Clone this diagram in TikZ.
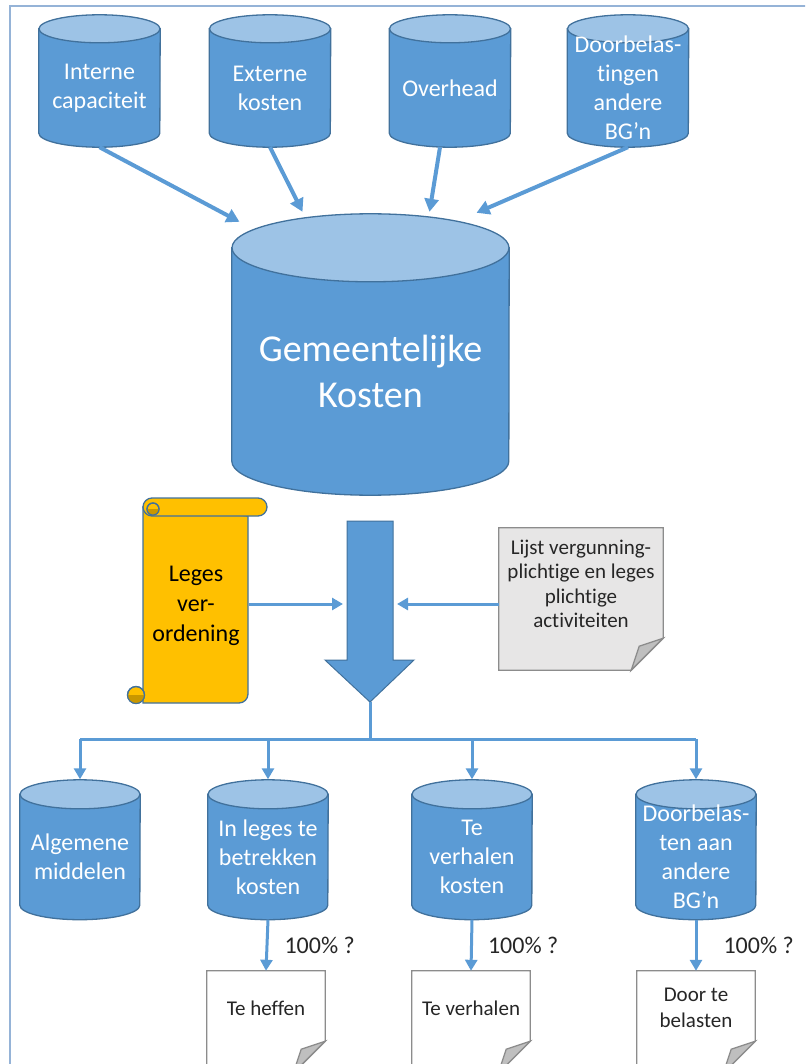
\documentclass[tikz,border=0pt]{standalone}
\usepackage{fontspec}
\setmainfont[Ligatures=NoCommon]{Carlito}
\usetikzlibrary{arrows.meta,calc,positioning,backgrounds}

\definecolor{vatblauw}{HTML}{5B9BD5}
\definecolor{vatlicht}{HTML}{9DC3E6}
\definecolor{vatrand}{HTML}{41719C}
\definecolor{lijnblauw}{HTML}{5B9BD5}
\definecolor{kader}{HTML}{95B3D7}
\definecolor{geel}{HTML}{FFC000}
\definecolor{donkergeel}{HTML}{C99700}
\definecolor{blad}{HTML}{E7E6E6}
\definecolor{bladrand}{HTML}{8C8C8C}
\definecolor{vouwgrijs}{HTML}{BFBFBF}
\definecolor{inkt}{HTML}{262626}

\def\vouw{32}

% cylinder round the body node: top ellipse on its north side
\newcommand\tekenvat[3]{%
  \begin{pgfonlayer}{background}
  \draw[vatlijn,fill=vatblauw] (#1.north west) -- ($(#1.south west)+(0,-#3)$)
     arc[start angle=180,end angle=360,x radius=#2pt,y radius=#3pt]
     -- (#1.north east) -- cycle;
  \draw[vatlijn,fill=vatlicht] (#1.north) ellipse[x radius=#2pt,y radius=#3pt];
  \end{pgfonlayer}
}

% document with folded corner round a text node
\newcommand\vouwblad[3]{%
  \begin{pgfonlayer}{background}
  \draw[bladlijn,fill=#3] (#1.north west) -- (#1.north east)
     -- ($(#1.south east)+(0,#2-\vouw)$) -- ($(#1.south east)+(-\vouw,#2)$)
     -- ($(#1.south west)+(0,#2)$) -- cycle;
  \draw[bladlijn,fill=vouwgrijs] ($(#1.south east)+(-\vouw,#2)$)
     .. controls ($(#1.south east)+(-0.85*\vouw,#2-0.45*\vouw)$) .. ($(#1.south east)+(-0.75*\vouw,#2-0.75*\vouw)$)
     -- ($(#1.south east)+(0,#2-\vouw)$) -- cycle;
  \end{pgfonlayer}
}

\begin{document}
\begin{tikzpicture}[x=1pt,y=-1pt,
    vat/.style={rectangle,text=white,align=center,inner sep=0pt,
        minimum width=121pt,minimum height=118pt,font=\fontsize{24}{29}\selectfont},
    grootvat/.style={vat,minimum width=277pt,minimum height=247pt,
        font=\fontsize{38}{46}\selectfont},
    laagvat/.style={vat,minimum width=120pt,minimum height=125pt},
    vatlijn/.style={draw=vatrand,line width=1.3pt},
    stroom/.style={draw=lijnblauw,line width=4pt,-{Triangle[length=13pt,width=14pt]}},
    stroomdun/.style={draw=lijnblauw,line width=3pt},
    punt/.style={-{Triangle[length=11pt,width=12pt]}},
    pijlvorm/.style={fill=vatblauw,draw=vatrand,line width=1pt},
    bladlijn/.style={draw=bladrand,line width=1.3pt},
    bladtekst/.style={text=inkt,align=center,inner sep=0pt},
    rol/.style={fill=geel,draw=vatrand,line width=1.3pt},
    krul/.style={fill=donkergeel},
    procent/.style={text=inkt,font=\fontsize{24}{29}\selectfont,inner sep=0pt},
    kaderlijn/.style={draw=kader,line width=1.5pt},
]
\useasboundingbox (0,0) rectangle (805,1064);
\clip (0,0) rectangle (805,1064);

\draw[kaderlijn] (10,1070) |- (810,6);

%% Sources
\node[vat] (intcap) at (99.5,88) {Interne\\capaciteit};
\node[vat] (extkost) at (270,88) {Externe\\kosten};
\node[vat] (overhead) at (450,88) {Overhead};
\node[vat] (doorbel) at (628,88) {Doorbelas-\\tingen\\andere\\BG’n};
\foreach \n in {intcap,extkost,overhead,doorbel} {\tekenvat{\n}{60.5}{14}}

\node[grootvat] (gemkost) at (370.5,371.5) {Gemeentelijke\\Kosten};
\tekenvat{gemkost}{138.5}{34}

{[shorten <=4pt]
    \draw[stroom] (intcap.south) -- ($(gemkost.north)+(-131,-26)$);
    \draw[stroom] (extkost.south) -- ($(gemkost.north)+(-68,-36)$);
    \draw[stroom] ($(overhead.south)+(-10,0)$) -- ($(gemkost.north)+(59,-36)$);
    \draw[stroom] (doorbel.south) -- ($(gemkost.north)+(106,-35)$);
}

%% Big arrow
\draw[pijlvorm] (347,521) -- (393,521) -- (393,660) -- (414,660) -- (370,702)
    -- (325,660) -- (347,660) -- cycle;
\coordinate (pijltip) at (370,702);
\coordinate (pijlL) at (343,604);
\coordinate (pijlR) at (397,604);
\coordinate (verdeel) at (370,739);

%% Scroll
\draw[rol] (143,507) -- (143,703) -- (239,703) arc[start angle=-90,end angle=0,radius=9pt]
    -- (248,516) -- cycle;
\draw[rol,rounded corners=9pt] (143,498) rectangle (267,516);
\draw[rol] (153,509) circle[radius=6pt];
\fill[krul] (147,509) arc[start angle=180,end angle=360,radius=6pt] -- cycle;
\draw[vatlijn,line width=1pt] (153,509) circle[radius=6pt];
\draw[rol] (136,695) circle[radius=8.5pt];
\fill[krul] (127.5,695) arc[start angle=180,end angle=360,radius=8.5pt] -- cycle;
\draw[vatlijn,line width=1pt] (136,695) circle[radius=8.5pt];
\node[bladtekst,text=black,minimum width=105pt,minimum height=187pt,
    font=\fontsize{24}{30}\selectfont] (leges) at (196,606) {Leges\\ver-\\ordening};

%% List
\node[bladtekst,minimum width=164pt,minimum height=112pt,
    font=\fontsize{21}{24.5}\selectfont] (lijst) at (581,584)
    {Lijst vergunning-\\plichtige en leges\\plichtige\\activiteiten};
\vouwblad{lijst}{30}{blad}

\draw[stroomdun,punt] (leges.east |- pijlL) -- (pijlL);
\draw[stroomdun,punt] (lijst.west |- pijlR) -- (pijlR);

%% Distribution
\node[laagvat] (algmid) at (80,857) {Algemene\\middelen};
\node[laagvat] (inleges) at (268,857) {In leges te\\betrekken\\kosten};
\node[laagvat] (verhalen) at (472,857) {Te\\verhalen\\kosten};
\node[laagvat] (doorbelast) at (696,857) {Doorbelas-\\ten aan\\andere\\BG’n};
\foreach \n in {algmid,inleges,verhalen,doorbelast} {\tekenvat{\n}{60}{14.5}}

\draw[stroomdun] (pijltip) -- (verdeel);
\draw[stroomdun] (algmid.north |- verdeel) -- (doorbelast.north |- verdeel);
\foreach \n in {algmid,inleges,verhalen,doorbelast}
    \draw[stroomdun,punt] (\n.north |- verdeel) -- ($(\n.north)+(0,-15)$);

%% Results
\node[bladtekst,minimum width=118pt,minimum height=74pt,
    font=\fontsize{21}{26}\selectfont] (heffen) at (266,1008) {Te heffen};
\node[bladtekst,minimum width=118pt,minimum height=74pt,
    font=\fontsize{21}{26}\selectfont] (verhaal) at (471,1008) {Te verhalen};
\node[bladtekst,minimum width=118pt,minimum height=74pt,
    font=\fontsize{21}{26}\selectfont] (belasten) at (696,1008) {Door te\\belasten};
\vouwblad{heffen}{28}{white}
\vouwblad{verhaal}{28}{white}
\vouwblad{belasten}{28}{white}

\draw[stroomdun,punt] (inleges.south) -- (heffen.north)
    node[procent,midway,right=16pt] (pct1) {100\% ?};
\draw[stroomdun,punt] (verhalen.south) -- (verhaal.north)
    node[procent,midway,right=15pt] (pct2) {100\% ?};
\draw[stroomdun,punt] (doorbelast.south) -- (belasten.north)
    node[procent,midway,right=26pt] (pct3) {100\% ?};

\end{tikzpicture}
\end{document}
